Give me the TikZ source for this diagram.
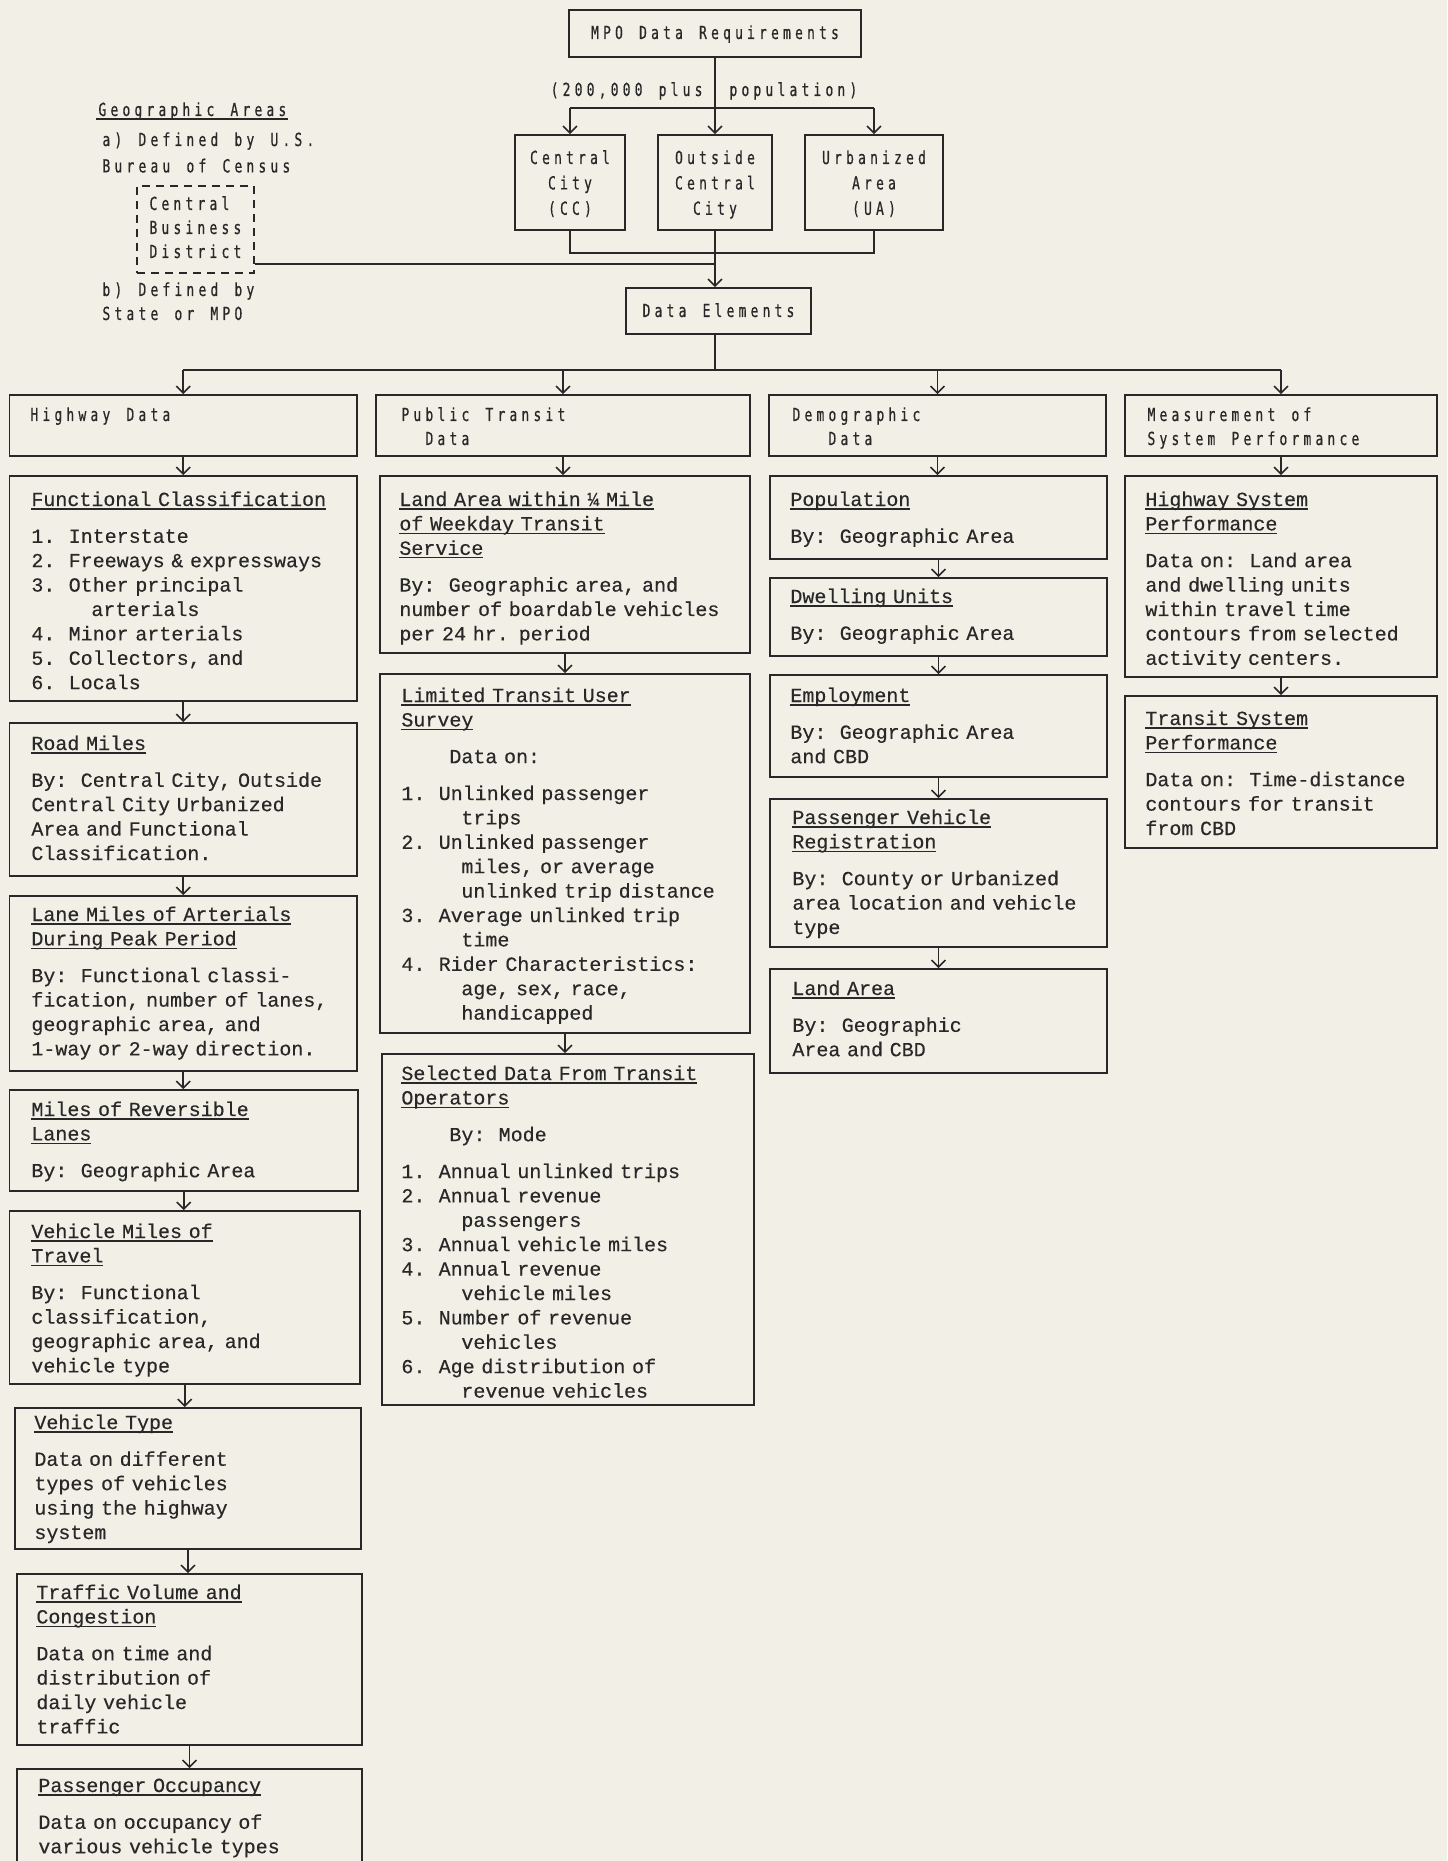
\documentclass[tikz,border=0pt]{standalone}
\usepackage{fontspec}
\usetikzlibrary{arrows.meta,fit}
\newfontfamily\tw[FakeBold=0.35]{Liberation Mono}
\newfontfamily\nar[FakeStretch=0.72,FakeBold=0.6]{DejaVu Sans Mono}
\definecolor{paper}{RGB}{242,240,230}
\definecolor{ink}{RGB}{40,40,40}
\newlength\cw \setlength\cw{6pt}
\newcommand\ii[1]{\hspace*{#1\cw}}
\newsavebox\ulnbox
\newcommand\uln[1]{\leavevmode\sbox\ulnbox{#1}\rlap{\rule[-1.8pt]{\wd\ulnbox}{0.6pt}}\usebox\ulnbox}
\ExplSyntaxOn
\cs_new_protected:Npn \resk_cells:n #1
  { \leavevmode \str_map_inline:nn {#1} { \makebox[\cw][c]{##1} } }
\cs_new_eq:NN \cells \resk_cells:n
\ExplSyntaxOff
\begin{document}
\begin{tikzpicture}[x=0.5pt,y=-0.5pt,
  box/.style={draw=ink, line width=0.8pt, inner sep=0pt},
  dbox/.style={box, dash pattern=on 4pt off 3pt},
  ln/.style={draw=ink, line width=0.8pt},
  arr/.style={ln, -{Straight Barb[length=3.5pt,width=7pt,line width=0.8pt]}},
  tx/.style={anchor=base west, inner sep=0pt, align=left, text width=175pt, text=ink,
    font=\tw\fontsize{10pt}{12.2pt}\selectfont},
  nt/.style={anchor=base west, inner sep=0pt, align=left, text width=175pt, text=ink,
    font=\nar\fontsize{9pt}{12pt}\selectfont},
  nc/.style={anchor=base, inner sep=0pt, align=center, text width=80pt, text=ink,
    font=\nar\fontsize{9pt}{12.7pt}\selectfont},
]
\useasboundingbox (0,0) rectangle (1447,1861);
\clip (0,0) rectangle (1447,1861);
\fill[paper] (0,0) rectangle (1447,1861);

% ---------- top section ----------
\node[box, fit={(569,10) (861,57)}] (mpo) {};
\node[nc, text width=150pt] (mpo-t) at (715,39) {\cells{MPO Data Requirements}};
\node[nt, anchor=base east, text width=] (lbl1) at (705,96) {\cells{(200,000 plus}};
\node[nt, text width=] (lbl2) at (727,96) {\cells{population)}};

\node[box, fit={(515,135) (625,230)}] (cc) {};
\node[nc] (cc-t) at (570,164) {\cells{Central}\\\cells{City}\\\cells{(CC)}};
\node[box, fit={(658,135) (772,230)}] (occ) {};
\node[nc] (occ-t) at (715,164) {\cells{Outside}\\\cells{Central}\\\cells{City}};
\node[box, fit={(805,135) (943,230)}] (ua) {};
\node[nc] (ua-t) at (874,164) {\cells{Urbanized}\\\cells{Area}\\\cells{(UA)}};

\node[box, fit={(626,288) (811,334)}] (de) {};
\node[nc, text width=100pt] (de-t) at (718.5,317) {\cells{Data Elements}};

% legend
\node[nt] (geo) at (96,116) {\uln{\cells{Geographic Areas}}};
\node[nt] (geoa) at (100,146) {\cells{a) Defined by U.S.}\\[1.2pt]\cells{Bureau of Census}};
\node[dbox, fit={(137,186) (254,273)}] (cbd) {};
\node[nt] (cbd-t) at (147,210) {\cells{Central}\\\cells{Business}\\\cells{District}};
\node[nt] (geob) at (100,296) {\cells{b) Defined by}\\\cells{State or MPO}};

% connectors of top section
\coordinate (j0) at (715,108);
\coordinate (j1) at (715,253);
\coordinate (j2) at (715,264);
\coordinate (j3) at (715,370);
\draw[ln] (mpo.south) -- (j0);
\draw[ln] (cc.north |- j0) -- (ua.north |- j0);
\draw[arr] (cc.north |- j0) -- (cc.north);
\draw[arr] (j0) -- (occ.north);
\draw[arr] (ua.north |- j0) -- (ua.north);
\draw[ln] (cc.south) -- (cc.south |- j1) -- (ua.south |- j1) -- (ua.south);
\draw[ln] (occ.south) -- (j1);
\draw[ln] (cbd.east |- j2) -- (j2);
\draw[arr] (j1) -- (j1 |- de.north);
\draw[ln] (de.south -| j3) -- (j3);

% ---------- first level ----------
\node[box, fit={(9.5,395) (357,456)}] (hwy) {};
\node[nt] (hwy-t) at (28,421) {\cells{Highway Data}};
\node[box, fit={(376,395) (750,456)}] (pt) {};
\node[nt] (pt-t) at (399,421) {\cells{Public Transit}\\\ii{2}\cells{Data}};
\node[box, fit={(769,395) (1106,456)}] (dem) {};
\node[nt] (dem-t) at (790,421) {\cells{Demographic}\\\ii{3}\cells{Data}};
\node[box, fit={(1125,395) (1437,456)}] (meas) {};
\node[nt] (meas-t) at (1145,421) {\cells{Measurement of}\\\cells{System Performance}};

\draw[ln] (hwy.north |- j3) -- (meas.north |- j3);
\draw[arr] (hwy.north |- j3) -- (hwy.north);
\draw[arr] (pt.north |- j3) -- (pt.north);
\draw[arr] (dem.north |- j3) -- (dem.north);
\draw[arr] (meas.north |- j3) -- (meas.north);

% ---------- column 1: highway ----------
\node[box, fit={(9.5,476) (357,701)}] (func) {};
\node[tx] (func-t) at (31,506) {\uln{Functional Classification}\\[6.2pt]
1.~~Interstate\\
2.~~Freeways \& expressways\\
3.~~Other principal\\
\ii{5}arterials\\
4.~~Minor arterials\\
5.~~Collectors, and\\
6.~~Locals};

\node[box, fit={(9.5,723) (357,876)}] (road) {};
\node[tx] (road-t) at (31,750) {\uln{Road Miles}\\[6.2pt]
By:~~Central City, Outside\\
Central City Urbanized\\
Area and Functional\\
Classification.};

\node[box, fit={(9.5,896) (357,1071)}] (lane) {};
\node[tx] (lane-t) at (31,921) {\uln{Lane Miles of Arterials}\\
\uln{During Peak Period}\\[6.2pt]
By:~~Functional classi-\\
fication, number of lanes,\\
geographic area, and\\
1-way or 2-way direction.};

\node[box, fit={(9.5,1090) (358,1191)}] (rev) {};
\node[tx] (rev-t) at (31,1116) {\uln{Miles of Reversible}\\
\uln{Lanes}\\[6.2pt]
By:~~Geographic Area};

\node[box, fit={(9.5,1211) (360,1384)}] (vmt) {};
\node[tx] (vmt-t) at (31,1238) {\uln{Vehicle Miles of}\\
\uln{Travel}\\[6.2pt]
By:~~Functional\\
classification,\\
geographic area, and\\
vehicle type};

\node[box, fit={(15,1408) (361,1549)}] (vtype) {};
\node[tx] (vtype-t) at (34,1429) {\uln{Vehicle Type}\\[6.2pt]
Data on different\\
types of vehicles\\
using the highway\\
system};

\node[box, fit={(17,1574) (362,1745)}] (traf) {};
\node[tx] (traf-t) at (36,1599) {\uln{Traffic Volume and}\\
\uln{Congestion}\\[6.2pt]
Data on time and\\
distribution of\\
daily vehicle\\
traffic};

\node[box, fit={(17,1769) (362,1920)}] (pocc) {};
\node[tx] (pocc-t) at (38,1792) {\uln{Passenger Occupancy}\\[6.2pt]
Data on occupancy of\\
various vehicle types};

\draw[arr] (hwy.south) -- (hwy.south |- func.north);
\draw[arr] (func.south) -- (func.south |- road.north);
\draw[arr] (road.south) -- (road.south |- lane.north);
\draw[arr] (lane.south) -- (lane.south |- rev.north);
\draw[arr] (rev.south) -- (rev.south |- vmt.north);
\draw[arr] (vmt.south) -- (vmt.south |- vtype.north);
\draw[arr] (vtype.south) -- (vtype.south |- traf.north);
\draw[arr] (traf.south) -- (traf.south |- pocc.north);

% ---------- column 2: public transit ----------
\node[box, fit={(380,476) (750,653)}] (land) {};
\node[tx] (land-t) at (399,506) {\uln{Land Area within ¼ Mile}\\
\uln{of Weekday Transit}\\
\uln{Service}\\[6.2pt]
By:~~Geographic area, and\\
number of boardable vehicles\\
per 24 hr. period};

\node[box, fit={(380,674) (750,1033)}] (surv) {};
\node[tx] (surv-t) at (401,702) {\uln{Limited Transit User}\\
\uln{Survey}\\[6.2pt]
\ii{4}Data on:\\[6.2pt]
1.~~Unlinked passenger\\
\ii{5}trips\\
2.~~Unlinked passenger\\
\ii{5}miles, or average\\
\ii{5}unlinked trip distance\\
3.~~Average unlinked trip\\
\ii{5}time\\
4.~~Rider Characteristics:\\
\ii{5}age, sex, race,\\
\ii{5}handicapped};

\node[box, fit={(382,1054) (754,1405)}] (sel) {};
\node[tx] (sel-t) at (401,1080) {\uln{Selected Data From Transit}\\
\uln{Operators}\\[6.2pt]
\ii{4}By:~~Mode\\[6.2pt]
1.~~Annual unlinked trips\\
2.~~Annual revenue\\
\ii{5}passengers\\
3.~~Annual vehicle miles\\
4.~~Annual revenue\\
\ii{5}vehicle miles\\
5.~~Number of revenue\\
\ii{5}vehicles\\
6.~~Age distribution of\\
\ii{5}revenue vehicles};

\draw[arr] (pt.south) -- (pt.south |- land.north);
\draw[arr] (land.south) -- (land.south |- surv.north);
\draw[arr] (surv.south) -- (surv.south |- sel.north);

% ---------- column 3: demographic ----------
\node[box, fit={(770,476) (1107,559)}] (pop) {};
\node[tx] (pop-t) at (790,506) {\uln{Population}\\[6.2pt]
By:~~Geographic Area};

\node[box, fit={(770,578) (1107,656)}] (dwell) {};
\node[tx] (dwell-t) at (790,603) {\uln{Dwelling Units}\\[6.2pt]
By:~~Geographic Area};

\node[box, fit={(770,675) (1107,777)}] (empl) {};
\node[tx] (empl-t) at (790,702) {\uln{Employment}\\[6.2pt]
By:~~Geographic Area\\
and CBD};

\node[box, fit={(770,799) (1107,947)}] (pvr) {};
\node[tx] (pvr-t) at (792,824) {\uln{Passenger Vehicle}\\
\uln{Registration}\\[6.2pt]
By:~~County or Urbanized\\
area location and vehicle\\
type};

\node[box, fit={(770,969) (1107,1073)}] (landa) {};
\node[tx] (landa-t) at (792,995) {\uln{Land Area}\\[6.2pt]
By:~~Geographic\\
Area and CBD};

\draw[arr] (dem.south) -- (dem.south |- pop.north);
\draw[arr] (pop.south) -- (pop.south |- dwell.north);
\draw[arr] (dwell.south) -- (dwell.south |- empl.north);
\draw[arr] (empl.south) -- (empl.south |- pvr.north);
\draw[arr] (pvr.south) -- (pvr.south |- landa.north);

% ---------- column 4: system performance ----------
\node[box, fit={(1125,476) (1437,677)}] (hsp) {};
\node[tx] (hsp-t) at (1145,506) {\uln{Highway System}\\
\uln{Performance}\\[6.2pt]
Data on:~~Land area\\
and dwelling units\\
within travel time\\
contours from selected\\
activity centers.};

\node[box, fit={(1125,696) (1437,848)}] (tsp) {};
\node[tx] (tsp-t) at (1145,725) {\uln{Transit System}\\
\uln{Performance}\\[6.2pt]
Data on:~~Time-distance\\
contours for transit\\
from CBD};

\draw[arr] (meas.south) -- (meas.south |- hsp.north);
\draw[arr] (hsp.south) -- (hsp.south |- tsp.north);
\end{tikzpicture}
\end{document}
